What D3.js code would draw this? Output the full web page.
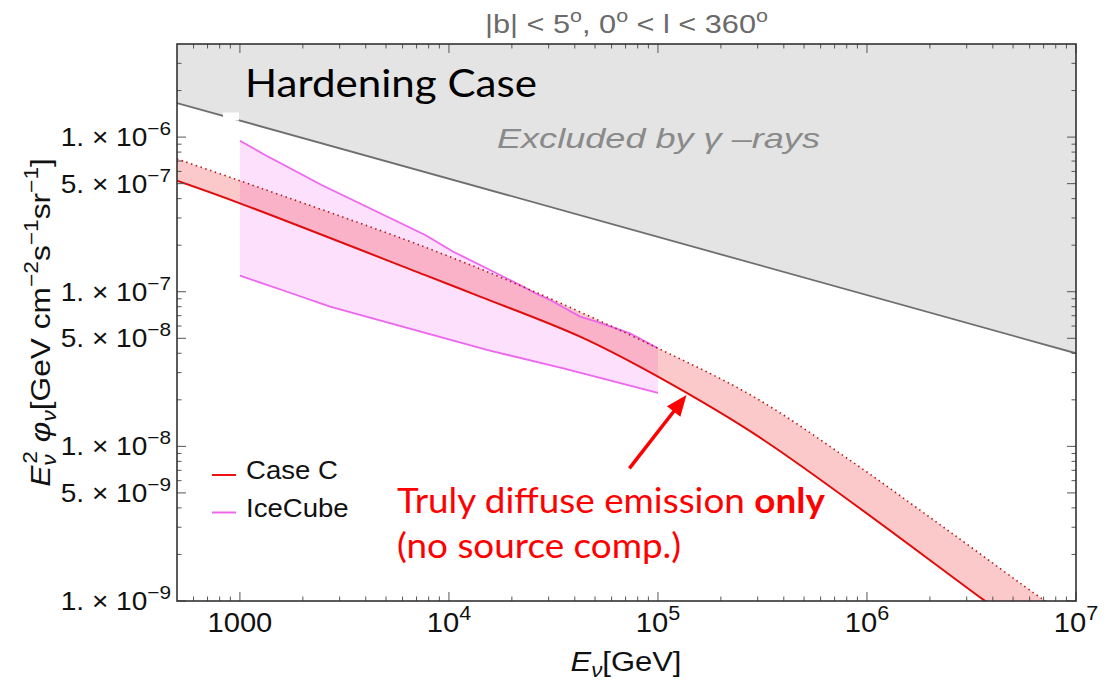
<!DOCTYPE html>
<html><head><meta charset="utf-8">
<script src="https://cdn.jsdelivr.net/npm/d3@7"></script>
<style>
html,body{margin:0;padding:0;background:#fff;}
svg{display:block;}
</style></head><body>
<svg id="chart" width="1120" height="681"></svg>
<script>
// Energies in GeV; fluxes are E^2 phi in GeV cm^-2 s^-1 sr^-1
const caseCLowerEnergy = [500, 1000, 7700, 14100, 42400, 1e5, 3.2e5, 3.6e6, 6.7e6];
const caseCLowerFlux   = [5.22e-7, 3.73e-7, 1.28e-7, 9.3e-8, 5.12e-8, 2.82e-8, 1.1e-8, 1.02e-9, 5.5e-10];
const caseCUpperEnergy = [500, 1000, 7700, 24400, 1e5, 2.93e5, 8.8e5, 2.54e6, 6.98e6, 1e7];
const caseCUpperFlux   = [7.22e-7, 5.22e-7, 1.94e-7, 1.03e-7, 4.31e-8, 2.06e-8, 7.69e-9, 2.75e-9, 1.02e-9, 7.42e-10];
const iceCubeUpperEnergy = [1000, 1320, 2460, 7700, 10500, 16900, 21900, 26300, 30500, 42400, 50900, 73500, 1e5];
const iceCubeUpperFlux   = [9.48e-7, 7.66e-7, 4.9e-7, 2.33e-7, 1.815e-7, 1.316e-7, 1.105e-7, 9.67e-8, 8.84e-8, 6.9e-8, 6.4e-8, 5.38e-8, 4.31e-8];
const iceCubeLowerEnergy = [1000, 1590, 2700, 7700, 15200, 35300, 1e5];
const iceCubeLowerFlux   = [1.27e-7, 1.026e-7, 8.0e-8, 5.41e-8, 4.2e-8, 3.2e-8, 2.22e-8];
const gammaLimitEnergy = [500, 1e7];
const gammaLimitFlux   = [1.66e-6, 4.0e-8];

const xTickValues   = [1000, 1e4, 1e5, 1e6, 1e7];
const xTickBase     = ["1000", "10", "10", "10", "10"];
const xTickExponent = ["", "4", "5", "6", "7"];
const yTickValues   = [1e-6, 5e-7, 1e-7, 5e-8, 1e-8, 5e-9, 1e-9];
const yTickMantissa = ["1.", "5.", "1.", "5.", "1.", "5.", "1."];
const yTickExponent = ["−6", "−7", "−7", "−8", "−8", "−9", "−9"];
const legendLabels  = ["Case C", "IceCube"];
const arrowTail = [7.3e4, 7.2e-9];
const arrowHead = [1.37e5, 2.15e-8];

const svg = d3.select("#chart");
const L = 177, R = 1076, T = 44, B = 601;
const x = d3.scaleLog().domain([500, 1e7]).range([L, R]);
const y = d3.scaleLog().domain([1e-9, 4e-6]).range([B, T]);

const SANS = "'Liberation Sans', Arial, sans-serif";
const RED = "#ee1111", MAG = "#ee66ee";

const pts = (E, F) => E.map((e, i) => [e, F[i]]);
const line = d3.line().x(d => x(d[0])).y(d => y(d[1]));
// smooth model curves; Catmull-Rom is direction-symmetric so the band outline matches the lines
const smooth = d3.line().x(d => x(d[0])).y(d => y(d[1])).curve(d3.curveCatmullRom.alpha(0.5));

svg.append("clipPath").attr("id", "plot").append("rect")
  .attr("x", L).attr("y", T).attr("width", R - L).attr("height", B - T);
const plot = svg.append("g").attr("clip-path", "url(#plot)");

// gamma-ray excluded region
const gl = pts(gammaLimitEnergy, gammaLimitFlux);
const yTop = y.domain()[1];
plot.append("path")
  .attr("d", line(gl.concat([[gammaLimitEnergy[1], yTop * 2], [gammaLimitEnergy[0], yTop * 2]])) + "Z")
  .attr("fill", "#e4e4e4");
plot.append("path").attr("d", line(gl)).attr("fill", "none")
  .attr("stroke", "#6e6e6e").attr("stroke-width", 1.8);
// white label backing behind the title box
svg.append("rect").attr("x", 223).attr("y", 112.5).attr("width", 16).attr("height", 8).attr("fill", "#fff");

// IceCube band
const icU = pts(iceCubeUpperEnergy, iceCubeUpperFlux);
const icL = pts(iceCubeLowerEnergy, iceCubeLowerFlux);
plot.append("path").attr("d", line(icU.concat(icL.slice().reverse())) + "Z")
  .attr("fill", "rgb(240,100,240)").attr("fill-opacity", 0.2);

// Case C band
const ccU = pts(caseCUpperEnergy, caseCUpperFlux);
const ccL = pts(caseCLowerEnergy, caseCLowerFlux);
plot.append("path")
  .attr("d", smooth(ccU) + "L" + smooth(ccL.slice().reverse()).slice(1) + "Z")
  .attr("fill", "rgb(240,60,60)").attr("fill-opacity", 0.28);

plot.append("path").attr("d", line(icU)).attr("fill", "none").attr("stroke", MAG).attr("stroke-width", 1.8);
plot.append("path").attr("d", line(icL)).attr("fill", "none").attr("stroke", MAG).attr("stroke-width", 1.8);
plot.append("path").attr("d", smooth(ccU)).attr("fill", "none").attr("stroke", "#b01010")
  .attr("stroke-width", 1.6).attr("stroke-dasharray", "1.4,3.6");
plot.append("path").attr("d", smooth(ccL)).attr("fill", "none").attr("stroke", "#e00d0d").attr("stroke-width", 2);

// frame and ticks
const axes = svg.append("g");
const xMinor = [], yMinor = [];
for (let d = 100; d <= 1e7; d *= 10) for (let m = 1; m <= 9; m++) {
  const v = m * d; if (v > 500 * 1.001 && v < 1e7 * 0.999) xMinor.push({v, major: m === 1});
}
for (let d = 1e-10; d <= 1e-5; d *= 10) for (let m = 1; m <= 9; m++) {
  const v = m * d; if (v > 1e-9 * 1.001 && v < 4e-6 * 0.999) yMinor.push({v, major: m === 1 || m === 5});
}
xMinor.push({v: 1e7, major: true});
xMinor.forEach(t => {
  const len = t.major ? 9 : 4.5, px = x(t.v);
  axes.append("line").attr("x1", px).attr("x2", px).attr("y1", B).attr("y2", B - len);
  axes.append("line").attr("x1", px).attr("x2", px).attr("y1", T).attr("y2", T + len);
});
yMinor.push({v: 1e-9, major: true});
yMinor.forEach(t => {
  const len = t.major ? 9 : 4.5, py = y(t.v);
  axes.append("line").attr("y1", py).attr("y2", py).attr("x1", L).attr("x2", L + len);
  axes.append("line").attr("y1", py).attr("y2", py).attr("x1", R).attr("x2", R - len);
});
axes.selectAll("line").attr("stroke", "#555").attr("stroke-width", 1);
svg.append("rect").attr("x", L).attr("y", T).attr("width", R - L).attr("height", B - T)
  .attr("fill", "none").attr("stroke", "#333").attr("stroke-width", 1.6);

// rich text helper: segments with size factor, baseline shift, italic/bold
function rich(sel, size, segs) {
  let prev = 0;
  segs.forEach(s => {
    const sh = s.sh || 0;
    const ts = sel.append("tspan").text(s.t)
      .attr("font-size", size * (s.sz || 1)).attr("dy", sh - prev);
    if (s.dx) ts.attr("dx", s.dx);
    if (s.it) ts.attr("font-style", "italic");
    if (s.b) ts.attr("font-weight", "bold");
    prev = sh;
  });
  return sel;
}
function stretch(sel, sx, mode) {
  const bb = sel.node().getBBox();
  const ax = mode === "end" ? bb.x + bb.width : mode === "middle" ? bb.x + bb.width / 2 : bb.x;
  sel.attr("transform", `translate(${ax},0) scale(${sx},1) translate(${-ax},0)`);
  return sx;
}
function fit(sel, width, mode) {
  return stretch(sel, width / sel.node().getBBox().width, mode);
}

// y tick labels
yTickValues.forEach((v, i) => {
  const t = svg.append("text").attr("x", 171).attr("y", y(v) + 9).attr("text-anchor", "end")
    .attr("font-family", SANS).attr("fill", "#111");
  rich(t, 26, [{t: yTickMantissa[i] + " × 10"}, {t: yTickExponent[i], sz: 0.74, sh: -11}]);
  stretch(t, 1.08, "end");
});
// x tick labels
xTickValues.forEach((v, i) => {
  const t = svg.append("text").attr("x", x(v)).attr("y", 632).attr("text-anchor", "middle")
    .attr("font-family", SANS).attr("fill", "#111");
  const segs = [{t: xTickBase[i]}];
  if (xTickExponent[i]) segs.push({t: xTickExponent[i], sz: 0.74, sh: -12});
  rich(t, 27, segs);
  stretch(t, 1.08, "middle");
});

// axis labels
const xl = svg.append("text").attr("x", 626).attr("y", 671).attr("text-anchor", "middle")
  .attr("font-family", SANS).attr("fill", "#111");
rich(xl, 27, [{t: "E", it: 1}, {t: "ν", sz: 0.72, sh: 6, it: 1}, {t: "[GeV]"}]);
fit(xl, 111, "middle");

const yg = svg.append("g").attr("transform", "translate(50,322.5) rotate(-90)");
const yl = yg.append("text").attr("x", 0).attr("y", 0).attr("text-anchor", "middle")
  .attr("font-family", SANS).attr("fill", "#111");
rich(yl, 27, [
  {t: "E", it: 1}, {t: "ν", sz: 0.72, sh: 6, it: 1}, {t: "2", sz: 0.72, sh: -13, dx: -8},
  {t: "  φ", it: 1}, {t: "ν", sz: 0.72, sh: 6, it: 1}, {t: "[GeV cm"},
  {t: "−2", sz: 0.72, sh: -12}, {t: "s"}, {t: "−1", sz: 0.72, sh: -12}, {t: "sr"},
  {t: "−1", sz: 0.72, sh: -12}, {t: "]"}
]);
fit(yl, 329, "middle");

// title
const tt = svg.append("text").attr("x", 626.5).attr("y", 33).attr("text-anchor", "middle")
  .attr("font-family", SANS).attr("fill", "#6a6a6a");
rich(tt, 25, [{t: "|b| < 5"}, {t: "o", sz: 0.7, sh: -11}, {t: ", 0"}, {t: "o", sz: 0.7, sh: -11},
  {t: " < l < 360"}, {t: "o", sz: 0.7, sh: -11}]);
fit(tt, 283, "middle");

// region captions
const hc = svg.append("text").attr("x", 245).attr("y", 97).attr("font-family", "Lato, sans-serif")
  .attr("font-size", 39).attr("fill", "#000").text("Hardening Case");
fit(hc, 292, "start");
const ex = svg.append("text").attr("x", 497).attr("y", 148).attr("font-family", SANS)
  .attr("font-style", "italic").attr("font-size", 28).attr("fill", "#8a8a8a").text("Excluded by  γ –rays");
fit(ex, 323, "start");

// legend
const legendColors = [RED, MAG];
legendLabels.forEach((lab, i) => {
  const ly = 475 + i * 37.5;
  svg.append("line").attr("x1", 212).attr("x2", 236).attr("y1", ly).attr("y2", ly)
    .attr("stroke", legendColors[i]).attr("stroke-width", 2);
  const t = svg.append("text").attr("x", 246).attr("y", ly + 4.5).attr("font-family", SANS)
    .attr("font-size", 26).attr("fill", "#111").text(lab);
  stretch(t, 1.06, "start");
});

// annotation
const a1 = svg.append("text").attr("x", 397).attr("y", 513).attr("font-family", "Lato, sans-serif")
  .attr("fill", "#ff0000");
rich(a1, 34, [{t: "Truly diffuse emission "}, {t: "only", b: 1}]);
const sxa = fit(a1, 428, "start");
const a2 = svg.append("text").attr("x", 397).attr("y", 558).attr("font-family", "Lato, sans-serif")
  .attr("font-size", 34).attr("fill", "#ff0000").text("(no source comp.)");
stretch(a2, sxa, "start");

// arrow to the Case C curve
const p0 = [x(arrowTail[0]), y(arrowTail[1])], p1 = [x(arrowHead[0]), y(arrowHead[1])];
const dxA = p1[0] - p0[0], dyA = p1[1] - p0[1], len = Math.hypot(dxA, dyA);
const ux = dxA / len, uy = dyA / len, nx = -uy, ny = ux;
const hl = 21, hw = 8.5;
svg.append("line").attr("x1", p0[0]).attr("y1", p0[1])
  .attr("x2", p1[0] - ux * hl * 0.8).attr("y2", p1[1] - uy * hl * 0.8)
  .attr("stroke", "#ff0000").attr("stroke-width", 3.5);
svg.append("path").attr("d", d3.line()([
  p1, [p1[0] - ux * hl + nx * hw, p1[1] - uy * hl + ny * hw],
  [p1[0] - ux * hl - nx * hw, p1[1] - uy * hl - ny * hw]]) + "Z").attr("fill", "#ff0000");
</script>
</body></html>
